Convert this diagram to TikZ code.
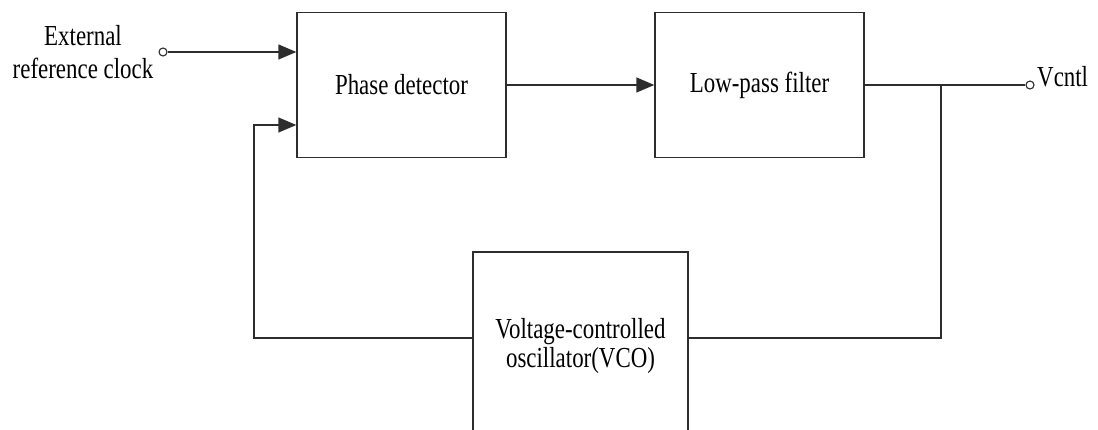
\documentclass[tikz,border=0pt]{standalone}
\usepackage{fontspec}
\setmainfont{Liberation Serif}[FakeStretch=0.79]
\usetikzlibrary{arrows.meta}
\definecolor{ln}{RGB}{45,45,45}
\begin{document}
\begin{tikzpicture}[x=1pt,y=-1pt,
  blk/.style={draw=ln, line width=1.4pt, inner sep=0pt, align=center, font=\fontsize{29}{30}\selectfont},
  wire/.style={draw=ln, line width=1.4pt},
  arr/.style={wire, -{Triangle[length=18pt,width=15pt]}},
  term/.style={circle, draw=ln, line width=1.1pt, minimum size=8pt, inner sep=0pt, fill=white},
  lbl/.style={inner sep=0pt, align=center}]
\useasboundingbox (0,0) rectangle (1098,430);
\clip (0,0) rectangle (1098,430);
\node[blk, minimum width=209pt, minimum height=145pt] (pd) at (401.5,85) {Phase detector};
\node[blk, minimum width=209pt, minimum height=145pt] (lpf) at (759.5,85) {Low-pass filter};
\node[blk, minimum width=215pt, minimum height=188pt, font=\fontsize{29}{29}\selectfont] (vco) at (580.5,346) {Voltage-controlled\\oscillator(VCO)};
\node[term] (in) at (163,52) {};
\node[term] (out) at (1030,85) {};
\node[lbl, font=\fontsize{29}{33}\selectfont] (ext) at (83,52) {External\\reference clock};
\node[lbl, anchor=base west, font=\fontsize{29}{30}\selectfont] (vl) at (1037,87) {Vcntl};
\coordinate (tap) at (941,85);
\coordinate (fbl) at (254,338);
\coordinate (fbt) at (254,125);
\draw[arr] (in.east) -- (in -| pd.west);
\draw[arr] (pd.east) -- (lpf.west);
\draw[wire] (lpf.east |- tap) -- (out.west);
\draw[wire] (tap) -- (tap |- fbl) -- (vco.east |- fbl);
\draw[arr] (vco.west |- fbl) -- (fbl) -- (fbt) -- (fbt -| pd.west);
\end{tikzpicture}
\end{document}
